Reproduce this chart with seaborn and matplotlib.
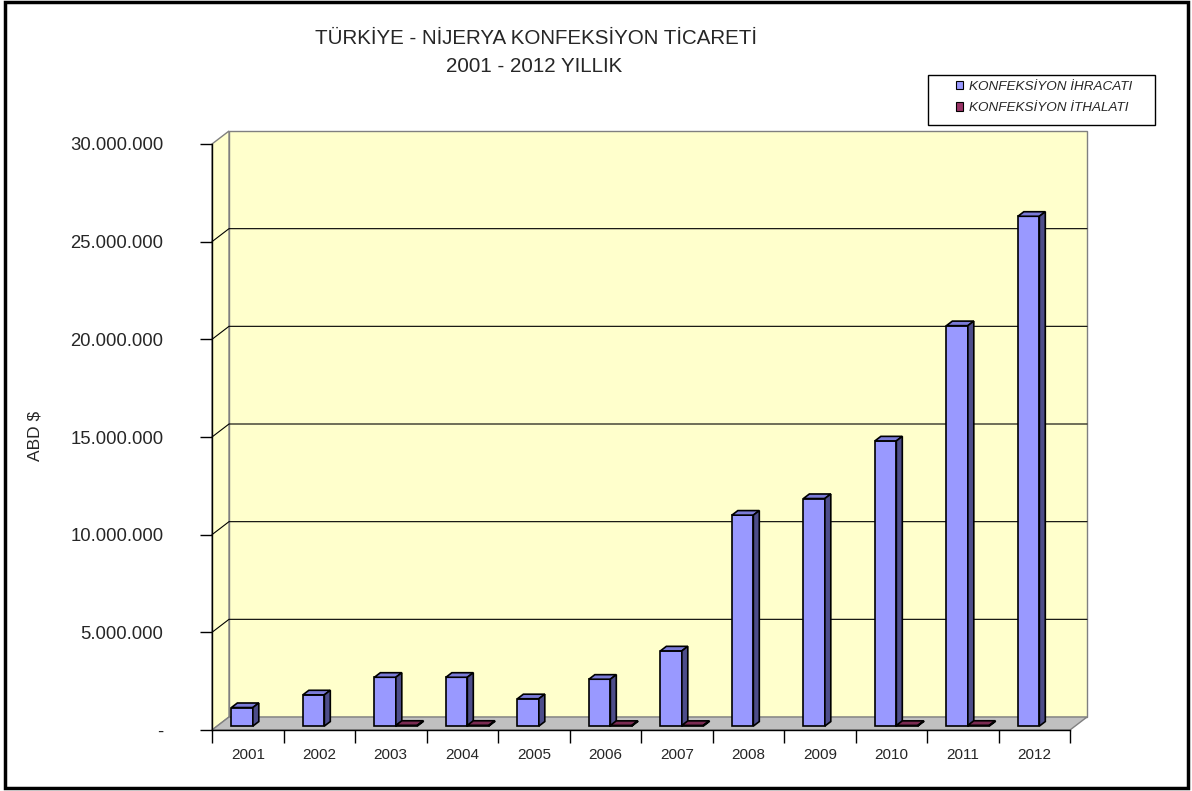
import numpy as np
import pandas as pd
import matplotlib
matplotlib.use("Agg")
import matplotlib.pyplot as plt
import seaborn as sns
from matplotlib.patches import Polygon, Rectangle
from matplotlib.transforms import ScaledTranslation, IdentityTransform
from matplotlib.lines import Line2D
from matplotlib.ticker import FuncFormatter, FixedLocator

# --- data ---
years = [str(y) for y in range(2001, 2013)]
ihracat = [950000, 1600000, 2500000, 2500000, 1400000, 2400000,
           3850000, 10800000, 11650000, 14600000, 20500000, 26100000]
ithalat = [0, 0, 40000, 40000, 0, 35000, 35000, 0, 0, 35000, 40000, 0]
series_names = ['KONFEKSİYON İHRACATI', 'KONFEKSİYON İTHALATI']
y_ticks = [0, 5000000, 10000000, 15000000, 20000000, 25000000, 30000000]

front_cols = ['#9999FF', '#993366']
top_cols = ['#7B7BD8', '#7A2A52']
side_cols = ['#4D4D8A', '#4F1A36']

df = pd.DataFrame({
    'year': years * 2,
    'value': ihracat + ithalat,
    'series': [series_names[0]] * len(years) + [series_names[1]] * len(years),
})

sns.set_style('white')
plt.rcParams['font.family'] = ['Liberation Sans', 'DejaVu Sans']

W, H = 1192, 791
fig = plt.figure(figsize=(W / 100, H / 100), dpi=100)
ax = fig.add_axes([212 / W, (H - 730) / H, (1070 - 212) / W, (730 - 144) / H])
ax.set_facecolor('none')

sns.barplot(data=df, x='year', y='value', hue='series', palette=front_cols,
            width=0.6, edgecolor='black', linewidth=1.2, saturation=1,
            legend=False, ax=ax, zorder=3)
bars = list(ax.patches)

ax.set_xlim(-0.5, len(years) - 0.5)
ax.set_ylim(0, 30000000)

# depth of the 3D box in pixels (display coords, y up)
DX, DY = 17, 13
F0, F1 = 0.3, 0.65  # bar front / back depth fractions


def disp(x, y, f):
    p = ax.transData.transform((x, y))
    return p + f * np.array([DX, DY])


def add_poly(pts, fc, ec, lw, z):
    ax.add_patch(Polygon(pts, closed=True, facecolor=fc, edgecolor=ec, linewidth=lw,
                         transform=IdentityTransform(), clip_on=False, zorder=z))


x0, x1 = -0.5, len(years) - 0.5
ytop = 30000000
# back wall
add_poly([disp(x0, 0, 1), disp(x1, 0, 1), disp(x1, ytop, 1), disp(x0, ytop, 1)],
         '#FFFFCC', '#808080', 1, 0.1)
# left wall
add_poly([disp(x0, 0, 0), disp(x0, 0, 1), disp(x0, ytop, 1), disp(x0, ytop, 0)],
         '#FFFFCC', '#808080', 1, 0.2)
# floor
add_poly([disp(x0, 0, 0), disp(x1, 0, 0), disp(x1, 0, 1), disp(x0, 0, 1)],
         '#C0C0C0', '#808080', 1, 0.3)

# gridlines on back wall and left wall
for v in y_ticks[1:-1]:
    a, b, c = disp(x0, v, 0), disp(x0, v, 1), disp(x1, v, 1)
    ax.add_line(Line2D([a[0], b[0], c[0]], [a[1], b[1], c[1]], color='black',
                       linewidth=0.8, transform=IdentityTransform(), clip_on=False, zorder=0.25))

# 3D bars
front_off = ScaledTranslation(F0 * DX / 100, F0 * DY / 100, fig.dpi_scale_trans)
for i, p in enumerate(bars):
    k = i // len(years)
    if p.get_height() <= 0:
        p.set_visible(False)
        continue
    p.set_transform(ax.transData + front_off)
    p.set_clip_on(False)
    bx, bw, bh = p.get_x(), p.get_width(), p.get_height()
    add_poly([disp(bx, bh, F0), disp(bx + bw, bh, F0), disp(bx + bw, bh, F1), disp(bx, bh, F1)],
             top_cols[k], 'black', 1.2, 3.1)
    add_poly([disp(bx + bw, 0, F0), disp(bx + bw, bh, F0), disp(bx + bw, bh, F1), disp(bx + bw, 0, F1)],
             side_cols[k], 'black', 1.2, 3.1)

# axes styling
for s in ['top', 'right']:
    ax.spines[s].set_visible(False)
for s in ['left', 'bottom']:
    ax.spines[s].set_color('black')
    ax.spines[s].set_linewidth(1)
    ax.spines[s].set_zorder(0.4)

ax.yaxis.set_major_locator(FixedLocator(y_ticks))
ax.yaxis.set_major_formatter(FuncFormatter(
    lambda v, pos: '-' if v == 0 else f'{int(v):,}'.replace(',', '.')))
ax.tick_params(axis='y', direction='out', length=9, width=1, color='black',
               labelsize=13.3, pad=26, left=True)
ax.set_xticks(range(len(years)))
ax.set_xticklabels(years)
ax.tick_params(axis='x', which='major', length=0, labelsize=11, pad=13)
ax.set_xticks(np.arange(-0.5, len(years), 1), minor=True)
ax.tick_params(axis='x', which='minor', direction='out', length=9, width=1,
               color='black', bottom=True)
ax.set_xlabel('')
ax.set_ylabel('')

fig.text(35 / W, 1 - 436 / H, 'ABD $', rotation=90, ha='center', va='center', fontsize=12.5)
fig.text(536 / W, 1 - 38 / H, 'TÜRKİYE - NİJERYA KONFEKSİYON TİCARETİ',
         ha='center', va='center', fontsize=14.8)
fig.text(534 / W, 1 - 66 / H, '2001 - 2012 YILLIK', ha='center', va='center', fontsize=14.8)

# legend: frame drawn separately so the inner padding matches
fig.patches.append(Rectangle((928 / W, 1 - 125 / H), (1155 - 928) / W, 50 / H,
                             transform=fig.transFigure, facecolor='white',
                             edgecolor='black', linewidth=1, zorder=5))
handles = [Rectangle((0, 0), 1, 1, facecolor=c, edgecolor='black', linewidth=0.8)
           for c in front_cols]
leg = fig.legend(handles, series_names, loc='center',
                 bbox_to_anchor=(1044 / W, 1 - 97.5 / H),
                 frameon=False, prop={'style': 'italic', 'size': 9.7},
                 handlelength=0.55, handleheight=0.55, handletextpad=0.45,
                 borderpad=0, labelspacing=0.7, borderaxespad=0)
leg.set_zorder(6)

# outer border
fig.patches.append(Rectangle((5 / W, 3 / H), (1188 - 5) / W, (789 - 3) / H,
                             transform=fig.transFigure, fill=False,
                             edgecolor='black', linewidth=2.5))

fig.savefig('out.png', dpi=100)
